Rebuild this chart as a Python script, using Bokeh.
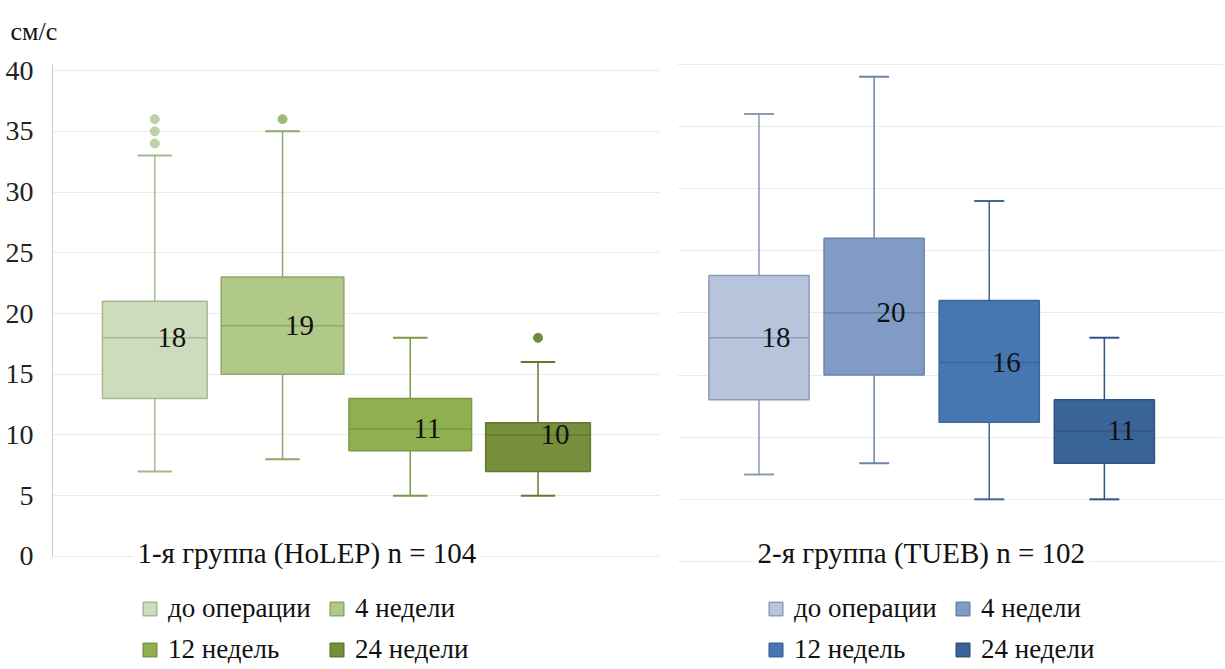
from bokeh.plotting import figure
from bokeh.layouts import row
from bokeh.models import (ColumnDataSource, Range1d, FixedTicker, Legend, LegendItem,
                          Label, Title)
from bokeh.core.properties import value
from bokeh.embed import file_html
from bokeh.resources import INLINE

# ---------------- data ----------------
periods = ["до операции", "4 недели", "12 недель", "24 недели"]

holep_low = [7, 8, 5, 5]
holep_q1 = [13, 15, 8.7, 7]
holep_med = [18, 19, 10.5, 10]
holep_q3 = [21, 23, 13, 11]
holep_high = [33, 35, 18, 16]
holep_labels = ["18", "19", "11", "10"]
holep_out_period = ["до операции", "до операции", "до операции", "4 недели", "24 недели"]
holep_out_val = [34, 35, 36, 36, 18]

tueb_low = [7, 7.9, 5, 5]
tueb_q1 = [13, 15, 11.2, 7.9]
tueb_med = [18, 20, 16, 10.5]
tueb_q3 = [23, 26, 21, 13]
tueb_high = [36, 39, 29, 18]
tueb_labels = ["18", "20", "16", "11"]
tueb_out_period = []
tueb_out_val = []

y_ticks = [0, 5, 10, 15, 20, 25, 30, 35, 40]
unit = "см/с"
title_holep = "1-я группа (HoLEP) n = 104"
title_tueb = "2-я группа (TUEB) n = 102"

# ---------------- styles ----------------
FONT = "'Liberation Serif', 'Noto Serif', 'DejaVu Serif', serif"
green_fill = ["#cddcba", "#b0c888", "#90b050", "#778f3d"]
green_line = ["#a6b891", "#8fa76a", "#7a9845", "#62792f"]
green_out = ["#bfd1a8", "#9fbb74", "#80a048", "#6f8a3a"]
blue_fill = ["#b8c4dc", "#7f9bc6", "#4677b1", "#3b6496"]
blue_line = ["#8d9bb8", "#6b84ab", "#3e6699", "#2f5484"]
blue_out = blue_line


def make_panel(width, height, border_left, border_top, x_range, y_range, axis_top,
               low, q1, med, q3, high, labels, out_period, out_val,
               fills, lines, outs, box_w, cap_w, title_text, title_x, title_y,
               legend_loc, show_axis):
    p = figure(width=width, height=height, output_backend="svg", toolbar_location=None,
               x_range=Range1d(*x_range), y_range=Range1d(*y_range),
               min_border_left=border_left, min_border_right=0,
               min_border_top=border_top, min_border_bottom=0)
    p.outline_line_color = None
    p.background_fill_color = "white"
    p.border_fill_color = "white"
    p.xaxis.visible = False
    p.xgrid.grid_line_color = None

    ticker = FixedTicker(ticks=y_ticks)
    p.yaxis.ticker = ticker
    p.ygrid.ticker = ticker
    p.ygrid.grid_line_color = "#ebebeb"
    p.ygrid.grid_line_width = 1
    if show_axis:
        p.yaxis.bounds = (0, axis_top)
        p.yaxis.axis_line_color = "#c8c8c8"
        p.yaxis.major_tick_line_color = None
        p.yaxis.minor_tick_line_color = None
        p.yaxis.major_label_text_font = FONT
        p.yaxis.major_label_text_font_size = "28px"
        p.yaxis.major_label_text_color = "#222222"
        p.yaxis.major_label_standoff = 13
    else:
        p.yaxis.visible = False

    xs = [i + 1 for i in range(len(periods))]
    pos = {c: i + 1 for i, c in enumerate(periods)}

    # whiskers
    p.segment(x0=xs, y0=low, x1=xs, y1=q1, line_color=lines, line_width=1.5)
    p.segment(x0=xs, y0=q3, x1=xs, y1=high, line_color=lines, line_width=1.5)
    p.segment(x0=[x - cap_w / 2 for x in xs], y0=low, x1=[x + cap_w / 2 for x in xs], y1=low,
              line_color=lines, line_width=2)
    p.segment(x0=[x - cap_w / 2 for x in xs], y0=high, x1=[x + cap_w / 2 for x in xs], y1=high,
              line_color=lines, line_width=2)

    # boxes
    src = ColumnDataSource(dict(x=xs, q1=q1, q3=q3, w=box_w, fill=fills, line=lines))
    boxes = p.vbar(x="x", width="w", bottom="q1", top="q3", source=src,
                   fill_color="fill", line_color="line", line_width=1.5)
    # medians
    p.segment(x0=[x - w / 2 for x, w in zip(xs, box_w)], y0=med,
              x1=[x + w / 2 for x, w in zip(xs, box_w)], y1=med,
              line_color=lines, line_width=1.5)

    # outliers
    if out_val:
        ox = [pos[c] for c in out_period]
        oc = [outs[pos[c] - 1] for c in out_period]
        p.scatter(x=ox, y=out_val, size=9, fill_color=oc, line_color=oc)

    # value labels
    p.text(x=xs, y=med, text=labels, x_offset=17, text_align="center",
           text_baseline="middle", text_font=value(FONT), text_font_size="29px",
           text_color="#111111")

    # group title
    p.add_layout(Label(x=title_x, y=title_y, text=title_text, text_align="center",
                       text_baseline="middle", text_font=FONT, text_font_size="29px",
                       text_color="#111111", background_fill_color="white",
                       background_fill_alpha=1.0, padding=4))

    order = [0, 2, 1, 3]  # row-major fill in a 2-column legend
    items = [LegendItem(label=periods[i], renderers=[boxes], index=i) for i in order]
    leg = Legend(items=items, ncols=2, location=legend_loc, padding=0, margin=0,
                 spacing=10, label_standoff=10, label_width=150,
                 glyph_width=17, glyph_height=17,
                 label_text_font=FONT, label_text_font_size="27px",
                 label_text_color="#111111", border_line_color=None,
                 background_fill_alpha=0)
    p.add_layout(leg)
    return p


left = make_panel(660, 667, 52, 63, (0.199, 4.959), (-9.14, 40.58), 40.58,
                  holep_low, holep_q1, holep_med, holep_q3, holep_high, holep_labels,
                  holep_out_period, holep_out_val, green_fill, green_line, green_out,
                  [0.82, 0.96, 0.96, 0.82], 0.27, title_holep, 2.19, 0.3, (89, 2), True)
left.title = Title(text=unit, align="left", vertical_align="top", offset=-42,
                   text_font=FONT, text_font_size="26px", text_font_style="normal",
                   text_color="#111111", standoff=31)

right = make_panel(563, 667, 17, 63, (0.292, 5.035), (-8.53, 40.06), 40.06,
                   tueb_low, tueb_q1, tueb_med, tueb_q3, tueb_high, tueb_labels,
                   tueb_out_period, tueb_out_val, blue_fill, blue_line, blue_out,
                   [0.87, 0.87, 0.87, 0.87], 0.26, title_tueb, 2.41, 0.72, (90, 2), False)

layout = row(left, right)
open("out.html", "w").write(file_html(layout, INLINE))
